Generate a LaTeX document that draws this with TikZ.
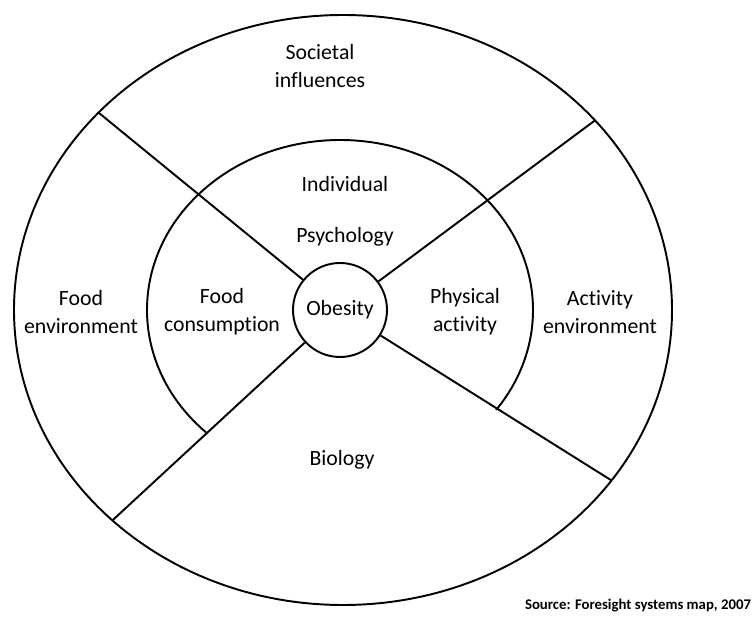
\documentclass[tikz,border=0pt]{standalone}
\usepackage{fontspec}
\setmainfont{Carlito}[Ligatures=NoCommon]
\begin{document}
\begin{tikzpicture}[
		line width=1.1pt,
		core/.style={circle, draw, minimum size=1.88cm, inner sep=0pt, font=\fontsize{12.4}{15.9}\selectfont},
		zone/.style={align=center, font=\fontsize{12.4}{15.9}\selectfont},
		src/.style={font=\fontsize{8.4}{10}\selectfont\bfseries},
	]
	\useasboundingbox (0,0) rectangle (15.06,12.38);

	\coordinate (outerc) at (6.86, 6.18);
	\coordinate (midc)   at (6.80, 6.18);

	% rings
	\draw (outerc) ellipse [x radius=6.58, y radius=5.90];
	\draw (midc) +(226:3.86 and 3.40) arc[start angle=226, end angle=-36, x radius=3.86, y radius=3.40];

	\node[core] (obesity) at (midc) {Obesity};

	\path (outerc) +(138:6.58 and 5.90) coordinate (ul);
	\path (outerc) +(40:6.58 and 5.90)  coordinate (ur);
	\path (outerc) +(225.5:6.58 and 5.90) coordinate (ll);
	\path (outerc) +(-35.3:6.58 and 5.90) coordinate (lr);

	\draw (obesity) -- (ul);
	\draw (obesity) -- (ur);
	\draw (obesity) -- (ll);
	\draw (obesity) -- (lr);

	\node[zone] (societal) at (6.40, 11.06) {Societal\\influences};
	\node[zone] (psych)    at (6.90, 8.16)  {Individual\\[13pt]Psychology};
	\node[zone] (foodenv)  at (1.62, 6.14)  {Food\\environment};
	\node[zone] (foodcons) at (4.44, 6.14)  {Food\\consumption};
	\node[zone] (physact)  at (9.30, 6.14)  {Physical\\activity};
	\node[zone] (actenv)   at (12.00, 6.14) {Activity\\environment};
	\node[zone] (biology)  at (6.84, 3.18)  {Biology};

	\node[src, anchor=base east, inner sep=0pt] (source) at (15.04, 0.18) {Source: Foresight systems map, 2007};
\end{tikzpicture}
\end{document}
